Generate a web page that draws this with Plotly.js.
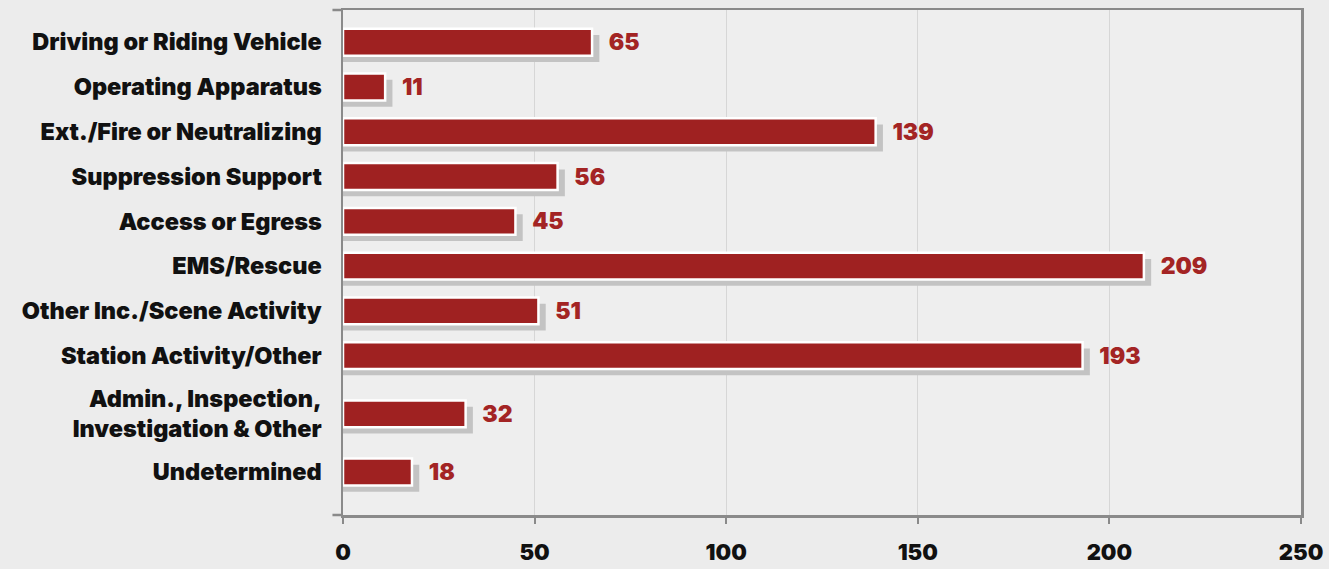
<!DOCTYPE html>
<html>
<head>
<meta charset="utf-8">
<script src="https://cdn.plot.ly/plotly-3.0.1.min.js"></script>
<style>
  html, body { margin: 0; padding: 0; background: #ececec; }
  #chart { width: 1329px; height: 569px; }
</style>
</head>
<body>
<div id="chart"></div>
<script>
const categories = [
  "Driving or Riding Vehicle",
  "Operating Apparatus",
  "Ext./Fire or Neutralizing",
  "Suppression Support",
  "Access or Egress",
  "EMS/Rescue",
  "Other Inc./Scene Activity",
  "Station Activity/Other",
  "Admin., Inspection,<br>Investigation & Other",
  "Undetermined"
];
const values = [65, 11, 139, 56, 45, 209, 51, 193, 32, 18];
const xTicks = [0, 50, 100, 150, 200, 250];

// styling constants
const FONT = "Inter, Roboto, 'DejaVu Sans', sans-serif";
const BAR_RED = "#9f2121";
const LABEL_RED = "#a32424";
const SHADOW = "#c3c3c3";
const SHADOW_SHIFT = 1.9;     // horizontal shadow offset in axis units (~7px)
const BAR_W = 0.6;            // bar thickness in row units
const SHADOW_DY = 0.14;       // vertical shadow offset in row units

// row centres: a two-line label takes a taller row
const rowH = categories.map(c => 1 + 0.6 * (c.split("<br>").length - 1));
const pos = [];
categories.forEach((c, i) => {
  pos.push(i === 0 ? 0 : pos[i - 1] + (rowH[i - 1] + rowH[i]) / 2);
});
const yTop = -0.72;
const yBottom = pos[pos.length - 1] + 0.96;

const shadowTrace = {
  type: "bar",
  orientation: "h",
  x: values.map(v => v + SHADOW_SHIFT),
  y: pos,
  width: BAR_W,
  offset: -BAR_W / 2 + SHADOW_DY,
  marker: { color: SHADOW, line: { width: 0 } },
  hoverinfo: "skip",
  showlegend: false
};

const barTrace = {
  type: "bar",
  orientation: "h",
  x: values,
  y: pos,
  width: BAR_W,
  marker: { color: BAR_RED, line: { color: "#ffffff", width: 2.5 } },
  text: values.map(String),
  texttemplate: "   %{text}",
  textposition: "outside",
  constraintext: "none",
  cliponaxis: false,
  textfont: { family: FONT, size: 23, color: LABEL_RED, weight: 900 },
  hoverinfo: "x",
  showlegend: false
};

const layout = {
  width: 1329,
  height: 569,
  margin: { l: 343, r: 28, t: 10, b: 54 },
  paper_bgcolor: "#ececec",
  plot_bgcolor: "#eeeeee",
  barmode: "overlay",
  font: { family: FONT, color: "#111111" },
  xaxis: {
    range: [0, 250],
    tickvals: xTicks,
    ticktext: xTicks.map(String),
    showgrid: true,
    gridcolor: "#d6d6d6",
    gridwidth: 1,
    zeroline: false,
    showline: true,
    linecolor: "#8a8a8a",
    linewidth: 2.5,
    mirror: true,
    ticks: "outside",
    ticklen: 6,
    tickwidth: 2,
    tickcolor: "#8a8a8a",
    ticklabelstandoff: 10,
    tickfont: { family: FONT, size: 22, color: "#111111", weight: 900 },
    fixedrange: true
  },
  yaxis: {
    range: [yBottom, yTop],
    tickvals: pos,
    ticktext: categories,
    showgrid: false,
    zeroline: false,
    showline: true,
    linecolor: "#8a8a8a",
    linewidth: 2.5,
    mirror: true,
    ticks: "",
    ticklabelstandoff: 14,
    tickfont: { family: FONT, size: 23.5, color: "#111111", weight: 900 },
    fixedrange: true
  },
  shapes: [
    { type: "line", xref: "paper", yref: "paper", x0: -0.011, x1: 0, y0: 0, y1: 0,
      line: { color: "#8a8a8a", width: 2.5 } },
    { type: "line", xref: "paper", yref: "paper", x0: -0.011, x1: 0, y0: 1, y1: 1,
      line: { color: "#8a8a8a", width: 2.5 } }
  ]
};

Plotly.newPlot("chart", [shadowTrace, barTrace], layout, { displayModeBar: false, staticPlot: true });
</script>
</body>
</html>
